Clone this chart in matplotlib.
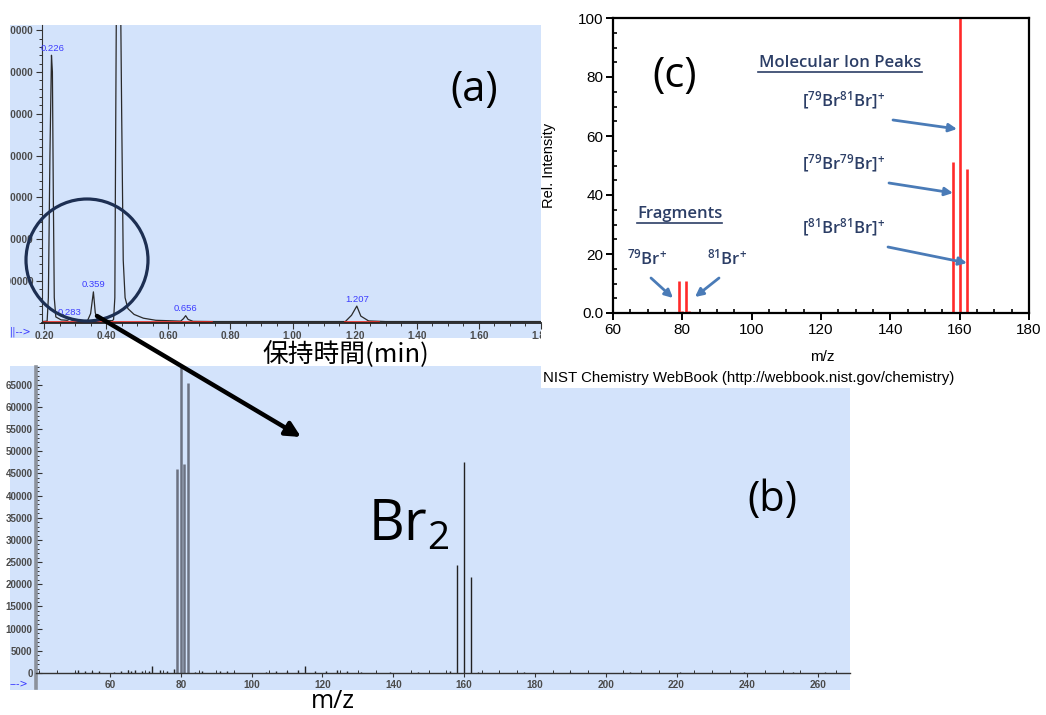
import numpy as np
import matplotlib.pyplot as plt
import matplotlib.transforms as mtransforms
from matplotlib.patches import Rectangle, Ellipse, FancyArrowPatch
from matplotlib.lines import Line2D
from matplotlib.ticker import MultipleLocator, FixedLocator, FuncFormatter

W, H = 1046, 715

# (a) chromatogram: (retention time / min, intensity)
trace = [(0.194, 3000), (0.210, 4000), (0.214, 60000), (0.219, 400000), (0.224, 640000),
         (0.227, 600000), (0.230, 300000), (0.233, 60000), (0.238, 14000), (0.255, 7000),
         (0.275, 6000), (0.283, 9000), (0.293, 5500), (0.340, 5000), (0.350, 22000),
         (0.359, 74000), (0.365, 24000), (0.372, 7000), (0.420, 5000), (0.424, 8000),
         (0.428, 60000), (0.431, 500000), (0.434, 900000), (0.445, 900000), (0.450, 500000),
         (0.455, 150000), (0.461, 60000), (0.470, 34000), (0.490, 20000), (0.520, 11000),
         (0.560, 6000), (0.640, 4000), (0.649, 10000), (0.656, 17000), (0.664, 8000),
         (0.680, 3500), (0.750, 3000), (1.170, 3000), (1.190, 18000), (1.207, 40000),
         (1.220, 16000), (1.245, 4500), (1.300, 3000), (1.800, 3000)]
rt, tic = map(list, zip(*trace))
peak_rt = [0.226, 0.283, 0.359, 0.656, 1.207]
peak_top = [640000, 9000, 74000, 17000, 40000]
base_segments = [(0.20, 0.74), (1.17, 1.28)]
base_level = 1500
a_yticks = [100000, 200000, 300000, 400000, 500000, 600000, 700000]

# (b) mass spectrum of the 0.359 min peak
ms_mz = [50, 51, 53, 55, 57, 61, 63, 65, 66, 67, 69, 71, 72, 74, 76, 78,
         79, 80, 81, 82, 84, 86, 91, 93, 95, 104, 107, 110, 113, 115, 118,
         121, 124, 127, 131, 139, 147, 156, 158, 160, 162, 164, 177, 190,
         207, 221, 239, 253, 262]
ms_int = [300, 600, 400, 500, 400, 300, 500, 600, 500, 700, 500, 400, 1600, 600, 500, 900,
          46000, 70000, 47200, 65500, 300, 400, 500, 400, 300, 300, 500, 400, 600, 1500, 500,
          400, 600, 400, 300, 300, 300, 500, 24400, 47600, 21700, 300, 200, 300,
          300, 300, 300, 300, 300]
b_xticks = [60, 80, 100, 120, 140, 160, 180, 200, 220, 240, 260]

# (c) NIST reference spectrum of Br2
nist_mz = [79, 80, 81, 82, 158, 160, 162]
nist_rel = [10.8, 0.6, 10.8, 0.6, 51.2, 100, 48.8]

BLUE = '#d3e3fb'
NAVY = '#2c3e66'
ARROW = '#4a7bb7'
TICKFONT = ['Liberation Sans', 'DejaVu Sans']
OS = ['Open Sans', 'DejaVu Sans']

fig = plt.figure(figsize=(W / 100, H / 100), dpi=100)
PX = mtransforms.Affine2D().scale(1 / W, -1 / H).translate(0, 1) + fig.transFigure


def box(x0, y0, x1, y1):
    return [x0 / W, 1 - y1 / H, (x1 - x0) / W, (y1 - y0) / H]


def clipbox(x0, y0, x1, y1):
    return mtransforms.TransformedBbox(
        mtransforms.Bbox.from_extents(x0 / W, 1 - y1 / H, x1 / W, 1 - y0 / H), fig.transFigure)


# backgrounds
fig.add_artist(Rectangle((9.5, 25), 531.5, 313, transform=PX, fc=BLUE, ec='none', zorder=-2))
fig.add_artist(Rectangle((9.5, 366), 840.5, 324, transform=PX, fc=BLUE, ec='none', zorder=-2))
fig.add_artist(Rectangle((541, -1), 506, 389, transform=PX, fc='white', ec='none', zorder=-1))

# ---------- (a) ----------
axa = fig.add_axes(box(42, 25, 541, 322.8))
axa.set_facecolor('none')
axa.plot(rt, tic, color='#2a2a2a', lw=0.9)
for t0, t1 in base_segments:
    axa.plot([t0, t1], [base_level, base_level], color='#e8281e', lw=1.2)
for t, v in zip(peak_rt, peak_top):
    axa.annotate(f'{t:.3f}', (t, v), xytext=(0, 5), textcoords='offset points',
                 ha='center', va='center', color='#3c3cff', fontsize=6.8, family=TICKFONT)
axa.set_xlim(0.1935, 1.80)
axa.set_ylim(0, 712400)
axa.spines[['top', 'right']].set_visible(False)
axa.spines['left'].set_color('#333333')
axa.spines['left'].set_linewidth(0.8)
axa.spines['bottom'].set_color('#222222')
axa.spines['bottom'].set_linewidth(1.3)
axa.xaxis.set_major_locator(MultipleLocator(0.2))
axa.xaxis.set_minor_locator(MultipleLocator(0.05))
axa.xaxis.set_major_formatter(FuncFormatter(lambda v, p: f'{v:.2f}'))
axa.yaxis.set_major_locator(FixedLocator(a_yticks))
axa.yaxis.set_minor_locator(MultipleLocator(20000))
axa.yaxis.set_major_formatter(FuncFormatter(lambda v, p: f'{int(v)}'))
axa.tick_params(which='major', direction='out', length=4, width=0.8, color='#333333',
                labelsize=7.2, labelcolor='#4a4a4a', pad=2)
axa.tick_params(which='minor', direction='out', length=2, width=0.7, color='#333333')

# ---------- (b) ----------
axb = fig.add_axes(box(36, 367, 850, 673))
axb.set_facecolor('none')
big = [m < 100 and v > 10000 for m, v in zip(ms_mz, ms_int)]
axb.vlines([m for m, b in zip(ms_mz, big) if b], 0, [v for v, b in zip(ms_int, big) if b],
           colors='#6c7282', lw=1.8)
axb.vlines([m for m, b in zip(ms_mz, big) if not b], 0, [v for v, b in zip(ms_int, big) if not b],
           colors='#222222', lw=1.0)
axb.set_xlim(39.1, 269.0)
axb.set_ylim(0, 69000)
axb.spines[['top', 'right']].set_visible(False)
axb.spines['left'].set_color('#8c929c')
axb.spines['left'].set_linewidth(2.6)
axb.spines['left'].set_bounds(-3400, 69000)
axb.spines['bottom'].set_color('#333333')
axb.spines['bottom'].set_linewidth(1.0)
axb.xaxis.set_major_locator(FixedLocator(b_xticks))
axb.xaxis.set_minor_locator(MultipleLocator(5))
axb.yaxis.set_major_locator(MultipleLocator(5000))
axb.yaxis.set_minor_locator(MultipleLocator(1000))
axb.tick_params(axis='y', which='major', direction='in', length=4, width=0.8, color='#333333',
                labelsize=7, labelcolor='#4a4a4a', pad=2.5)
axb.tick_params(axis='y', which='minor', direction='in', length=2, width=0.7, color='#333333')
axb.tick_params(axis='x', which='major', direction='out', length=3, width=0.8, color='#333333',
                labelsize=7.2, labelcolor='#4a4a4a', pad=2)
axb.tick_params(axis='x', which='minor', direction='in', length=2, width=0.7, color='#333333')

# ---------- (c) ----------
axc = fig.add_axes(box(613, 18, 1029, 313))
axc.set_facecolor('none')
axc.vlines(nist_mz, 0, nist_rel, colors='#ff2a2a', lw=1.9)
axc.set_xlim(60, 180)
axc.set_ylim(0, 100)
for s in axc.spines.values():
    s.set_linewidth(1.6)
axc.xaxis.set_major_locator(MultipleLocator(20))
axc.xaxis.set_minor_locator(MultipleLocator(5))
axc.yaxis.set_major_locator(MultipleLocator(20))
axc.yaxis.set_minor_locator(MultipleLocator(5))
axc.yaxis.set_major_formatter(FuncFormatter(lambda v, p: '0.0' if v == 0 else f'{int(v)}'))
axc.tick_params(which='major', direction='out', length=5, width=1.4, labelsize=11, pad=2)
axc.tick_params(which='minor', direction='in', length=3, width=1.2)

# tick label fonts, and the screenshot crop on the left edge of (a)
fig.canvas.draw()
for lab in axc.get_xticklabels() + axc.get_yticklabels():
    lab.set_fontfamily('Liberation Sans')
for ax, cb in ((axa, clipbox(9.5, 25, 541, 345)), (axb, clipbox(0, 366, 850, 695))):
    for lab in ax.get_xticklabels() + ax.get_yticklabels():
        lab.set_fontfamily(TICKFONT)
        lab.set_fontweight('bold')
        lab.set_clip_box(cb)
        lab.set_clip_on(True)

# ---------- texts ----------
fig.text(474, 90, '(a)', transform=PX, fontsize=30, family=OS, ha='center', va='center')
fig.text(772, 500, '(b)', transform=PX, fontsize=30, family=OS, ha='center', va='center')
fig.text(675, 76, '(c)', transform=PX, fontsize=30, family=OS, ha='center', va='center')
fig.text(368, 540, r'Br$_{\mathregular{2}}$', transform=PX, fontsize=40, family=OS,
         ha='left', va='baseline')
fig.text(346, 355, '保持時間(min)', transform=PX, fontsize=18.5,
         family=['Noto Sans CJK JP', 'DejaVu Sans'], ha='center', va='center')
fig.text(333, 702, 'm/z', transform=PX, fontsize=18, family=OS, fontweight='medium',
         ha='center', va='center')
fig.text(10, 332, '||-->', transform=PX, fontsize=7, color='#3c3cff', ha='left', va='center')
fig.text(10, 684, '--->', transform=PX, fontsize=7, color='#3c3cff', ha='left', va='center')

fig.text(549, 165, 'Rel. Intensity', transform=PX, fontsize=10.5, family='Liberation Sans',
         rotation=90, ha='center', va='center')
fig.text(822, 357, 'm/z', transform=PX, fontsize=11, family='Liberation Sans',
         ha='center', va='center')
fig.text(543, 378, 'NIST Chemistry WebBook (http://webbook.nist.gov/chemistry)', transform=PX,
         fontsize=10.8, family='Liberation Sans', ha='left', va='center')

# annotations in (c)
ann = dict(transform=PX, fontsize=12, family=OS, color=NAVY, ha='center', va='center',
           fontweight='semibold')
fig.text(840, 63, 'Molecular Ion Peaks', **ann)
fig.add_artist(Line2D([758, 922], [72, 72], transform=PX, color=NAVY, lw=1.2))
fig.text(680, 214, 'Fragments', **ann)
fig.add_artist(Line2D([637, 722], [223, 223], transform=PX, color=NAVY, lw=1.2))
fig.text(844, 100, r'[$\mathregular{^{79}}$Br$\mathregular{^{81}}$Br]$\mathregular{^{+}}$', **ann)
fig.text(844, 163, r'[$\mathregular{^{79}}$Br$\mathregular{^{79}}$Br]$\mathregular{^{+}}$', **ann)
fig.text(844, 227, r'[$\mathregular{^{81}}$Br$\mathregular{^{81}}$Br]$\mathregular{^{+}}$', **ann)
fig.text(647, 258, r'$\mathregular{^{79}}$Br$\mathregular{^{+}}$', **ann)
fig.text(727, 258, r'$\mathregular{^{81}}$Br$\mathregular{^{+}}$', **ann)

for p0, p1 in [((893, 120), (957, 129)), ((889, 183), (953, 193)), ((888, 247), (967, 263)),
               ((651, 278), (673, 298)), ((719, 278), (695, 297))]:
    fig.add_artist(FancyArrowPatch(p0, p1, transform=PX, arrowstyle='-|>', mutation_scale=12,
                                   lw=2, color=ARROW, shrinkA=0, shrinkB=0, zorder=6))

# circle and arrow linking (a) to (b)
fig.add_artist(Ellipse((87, 260), 122, 122, transform=PX, fill=False, ec='#1d2f52', lw=2.3,
                       zorder=5))
fig.add_artist(FancyArrowPatch((97, 316), (301, 437), transform=PX, arrowstyle='-|>',
                               mutation_scale=22, lw=3.2, color='black', shrinkA=0, shrinkB=0,
                               zorder=6))

fig.savefig('out.png', dpi=100)
